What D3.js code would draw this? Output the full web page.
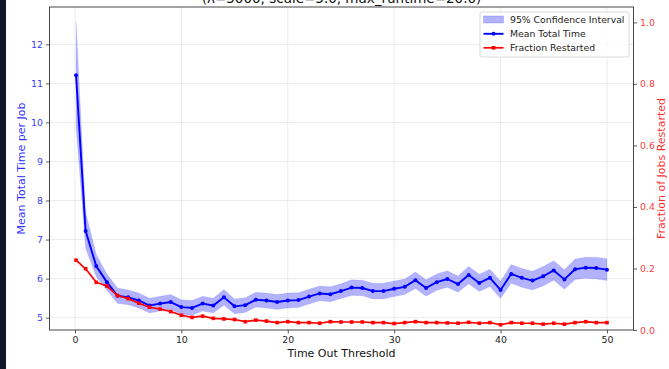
<!DOCTYPE html>
<html>
<head>
<meta charset="utf-8">
<script src="https://cdn.jsdelivr.net/npm/d3@7"></script>
<style>
  html, body { margin: 0; padding: 0; background: #fff; }
  svg { display: block; font-family: "DejaVu Sans", sans-serif; }
</style>
</head>
<body>
<script>
// thresholds (x)
var thresholds = [0.1, 1, 2, 3, 4, 5, 6, 7, 8, 9, 10, 11, 12, 13, 14, 15, 16, 17, 18, 19, 20,
  21, 22, 23, 24, 25, 26, 27, 28, 29, 30, 31, 32, 33, 34, 35, 36, 37, 38, 39, 40,
  41, 42, 43, 44, 45, 46, 47, 48, 49, 50];

var meanTime = [11.21, 7.22, 6.32, 5.91, 5.56, 5.52, 5.44, 5.31, 5.36, 5.40, 5.27,
  5.25, 5.36, 5.31, 5.52, 5.29, 5.32, 5.46, 5.44, 5.40, 5.44,
  5.45, 5.54, 5.62, 5.60, 5.68, 5.77, 5.76, 5.68, 5.68, 5.74,
  5.79, 5.96, 5.76, 5.91, 5.99, 5.86, 6.09, 5.89, 6.02, 5.71,
  6.12, 6.02, 5.95, 6.06, 6.21, 5.98, 6.24, 6.28, 6.27, 6.23];

var ciLow = [9.90, 6.78, 6.05, 5.70, 5.36, 5.33, 5.25, 5.12, 5.17, 5.21, 5.08,
  5.06, 5.17, 5.12, 5.32, 5.10, 5.13, 5.27, 5.25, 5.21, 5.25,
  5.26, 5.35, 5.43, 5.41, 5.49, 5.57, 5.56, 5.48, 5.48, 5.54,
  5.59, 5.75, 5.55, 5.70, 5.78, 5.65, 5.87, 5.67, 5.80, 5.49,
  5.88, 5.78, 5.71, 5.81, 5.96, 5.73, 5.98, 6.01, 5.99, 5.95];

var ciHigh = [12.58, 7.70, 6.62, 6.12, 5.76, 5.71, 5.63, 5.50, 5.55, 5.59, 5.46,
  5.44, 5.55, 5.50, 5.72, 5.48, 5.51, 5.65, 5.63, 5.59, 5.63,
  5.64, 5.73, 5.81, 5.79, 5.87, 5.97, 5.96, 5.88, 5.88, 5.94,
  5.99, 6.17, 5.97, 6.12, 6.20, 6.07, 6.31, 6.11, 6.24, 5.93,
  6.36, 6.26, 6.19, 6.31, 6.46, 6.23, 6.50, 6.55, 6.55, 6.51];

var fracRestarted = [0.227, 0.199, 0.155, 0.143, 0.112, 0.102, 0.087, 0.074, 0.068, 0.060, 0.048,
  0.041, 0.045, 0.038, 0.036, 0.034, 0.027, 0.032, 0.029, 0.024, 0.027,
  0.024, 0.024, 0.022, 0.027, 0.026, 0.026, 0.026, 0.024, 0.024, 0.021,
  0.024, 0.027, 0.024, 0.024, 0.023, 0.022, 0.025, 0.022, 0.024, 0.017,
  0.024, 0.022, 0.022, 0.019, 0.022, 0.019, 0.024, 0.027, 0.024, 0.024];

var xTicks = [0, 10, 20, 30, 40, 50];
var leftTicks = [5, 6, 7, 8, 9, 10, 11, 12];
var rightTicks = [0.0, 0.2, 0.4, 0.6, 0.8, 1.0];
var legendLabels = ["95% Confidence Interval", "Mean Total Time", "Fraction Restarted"];
var titleText = "(\u03bb=5000, scale=5.0, max_runtime=20.0)";

var W = 669, H = 369;
var pLeft = 49.5, pRight = 633.5, pTop = 7, pBottom = 330;
var tickFont = 9.4;

var svg = d3.select("body").append("svg")
  .attr("width", W)
  .attr("height", H);

svg.append("rect").attr("width", W).attr("height", H).attr("fill", "#fff");
// dark strip on the left edge
svg.append("rect").attr("x", 0).attr("y", 0).attr("width", 6).attr("height", H).attr("fill", "#0f172a");

var data = thresholds.map(function(t, i) {
  return {x: t, m: meanTime[i], lo: ciLow[i], hi: ciHigh[i], f: fracRestarted[i]};
});

// matplotlib-like 5% margins
var xExt = d3.extent(thresholds);
var xPad = (xExt[1] - xExt[0]) * 0.05;
var x = d3.scaleLinear().domain([xExt[0] - xPad, xExt[1] + xPad]).range([pLeft, pRight]);

var yMin = d3.min(ciLow), yMax = d3.max(ciHigh);
var yPad = (yMax - yMin) * 0.05;
var y = d3.scaleLinear().domain([yMin - yPad, yMax + yPad]).range([pBottom, pTop]);

var y2 = d3.scaleLinear().domain([0, 1.05]).range([pBottom, pTop]);

// grid
var grid = svg.append("g");
grid.selectAll("line.gx")
    .data(xTicks)
  .enter().append("line")
    .attr("x1", function(d) { return x(d); })
    .attr("x2", function(d) { return x(d); })
    .attr("y1", pTop).attr("y2", pBottom)
    .style("stroke", "#b0b0b0").style("stroke-opacity", 0.3).style("stroke-width", 0.8);
grid.selectAll("line.gy")
    .data(leftTicks)
  .enter().append("line")
    .attr("y1", function(d) { return y(d); })
    .attr("y2", function(d) { return y(d); })
    .attr("x1", pLeft).attr("x2", pRight)
    .style("stroke", "#b0b0b0").style("stroke-opacity", 0.3).style("stroke-width", 0.8);

var plot = svg.append("g");

// confidence band
var area = d3.area()
  .x(function(d) { return x(d.x); })
  .y0(function(d) { return y(d.lo); })
  .y1(function(d) { return y(d.hi); });
plot.append("path")
  .datum(data)
  .attr("d", area)
  .style("fill", "#0000ff")
  .style("fill-opacity", 0.3)
  .style("stroke", "#0000ff")
  .style("stroke-opacity", 0.15)
  .style("stroke-width", 0.5);

// mean line
var meanLine = d3.line()
  .x(function(d) { return x(d.x); })
  .y(function(d) { return y(d.m); });
plot.append("path")
  .datum(data)
  .attr("d", meanLine)
  .style("fill", "none")
  .style("stroke", "#0000ff")
  .style("stroke-width", 1.9)
  .style("stroke-linejoin", "round");
plot.selectAll("circle.mean")
    .data(data)
  .enter().append("circle")
    .attr("cx", function(d) { return x(d.x); })
    .attr("cy", function(d) { return y(d.m); })
    .attr("r", 2)
    .style("fill", "#0000ff");

// fraction restarted (twin axis)
var fracLine = d3.line()
  .x(function(d) { return x(d.x); })
  .y(function(d) { return y2(d.f); });
plot.append("path")
  .datum(data)
  .attr("d", fracLine)
  .style("fill", "none")
  .style("stroke", "#ff0000")
  .style("stroke-width", 1.7)
  .style("stroke-linejoin", "round");
plot.selectAll("rect.frac")
    .data(data)
  .enter().append("rect")
    .attr("x", function(d) { return x(d.x) - 1.8; })
    .attr("y", function(d) { return y2(d.f) - 1.8; })
    .attr("width", 3.6)
    .attr("height", 3.6)
    .style("fill", "#ff0000");

// axes
var xAxis = d3.axisBottom(x).tickValues(xTicks).tickFormat(d3.format("d")).tickSizeOuter(0).tickSize(3.5).tickPadding(3);
var yAxis = d3.axisLeft(y).tickValues(leftTicks).tickFormat(d3.format("d")).tickSizeOuter(0).tickSize(3.5).tickPadding(3);
var y2Axis = d3.axisRight(y2).tickValues(rightTicks).tickFormat(d3.format(".1f")).tickSizeOuter(0).tickSize(3.5).tickPadding(3);

var gx = svg.append("g").attr("transform", "translate(0," + pBottom + ")").call(xAxis);
var gy = svg.append("g").attr("transform", "translate(" + pLeft + ",0)").call(yAxis);
var gy2 = svg.append("g").attr("transform", "translate(" + pRight + ",0)").call(y2Axis);

[gx, gy, gy2].forEach(function(g) {
  g.select(".domain").remove();
  g.selectAll(".tick line").style("stroke", "#333").style("stroke-width", 0.8);
  g.selectAll(".tick text").style("font-family", "DejaVu Sans").style("font-size", tickFont + "px");
});
gx.selectAll(".tick text").style("fill", "#222");
gy.selectAll(".tick text").style("fill", "#0000ff").style("fill-opacity", 0.8);
gy2.selectAll(".tick text").style("fill", "#ff0000").style("fill-opacity", 0.8);

// spines
svg.append("rect")
  .attr("x", pLeft).attr("y", pTop)
  .attr("width", pRight - pLeft).attr("height", pBottom - pTop)
  .style("fill", "none")
  .style("stroke", "#333")
  .style("stroke-width", 0.9);

// axis labels
svg.append("text")
  .attr("x", (pLeft + pRight) / 2)
  .attr("y", 357)
  .attr("text-anchor", "middle")
  .style("font-size", "11px")
  .style("fill", "#111")
  .text("Time Out Threshold");

svg.append("text")
  .attr("transform", "translate(25," + ((pTop + pBottom) / 2) + ") rotate(-90)")
  .attr("text-anchor", "middle")
  .style("font-size", "11px")
  .style("fill", "#0000ff")
  .style("fill-opacity", 0.85)
  .text("Mean Total Time per Job");

svg.append("text")
  .attr("transform", "translate(665," + ((pTop + pBottom) / 2) + ") rotate(-90)")
  .attr("text-anchor", "middle")
  .style("font-size", "11px")
  .style("fill", "#ff0000")
  .style("fill-opacity", 0.85)
  .text("Fraction of Jobs Restarted");

// title (mostly cut off at the top)
svg.append("text")
  .attr("x", (pLeft + pRight) / 2)
  .attr("y", 2.5)
  .attr("text-anchor", "middle")
  .style("font-size", "13.5px")
  .style("fill", "#111")
  .text(titleText);

// legend
var lg = svg.append("g").attr("transform", "translate(480,12)");
lg.append("rect")
  .attr("width", 149).attr("height", 45)
  .attr("rx", 2)
  .style("fill", "#fff").style("fill-opacity", 0.8)
  .style("stroke", "#d0d0d0").style("stroke-width", 0.8);

var rowY = [7.5, 21.8, 35.8];
lg.append("rect")
  .attr("x", 3.5).attr("y", rowY[0] - 3.5)
  .attr("width", 20).attr("height", 7)
  .style("fill", "#0000ff").style("fill-opacity", 0.3)
  .style("stroke", "#0000ff").style("stroke-opacity", 0.15);
lg.append("line")
  .attr("x1", 3.5).attr("x2", 23.5).attr("y1", rowY[1]).attr("y2", rowY[1])
  .style("stroke", "#0000ff").style("stroke-width", 1.9);
lg.append("circle")
  .attr("cx", 13.5).attr("cy", rowY[1]).attr("r", 2)
  .style("fill", "#0000ff");
lg.append("line")
  .attr("x1", 3.5).attr("x2", 23.5).attr("y1", rowY[2]).attr("y2", rowY[2])
  .style("stroke", "#ff0000").style("stroke-width", 1.7);
lg.append("rect")
  .attr("x", 13.5 - 1.8).attr("y", rowY[2] - 1.8).attr("width", 3.6).attr("height", 3.6)
  .style("fill", "#ff0000");

lg.selectAll("text.lab")
    .data(legendLabels)
  .enter().append("text")
    .attr("x", 30)
    .attr("y", function(d, i) { return rowY[i]; })
    .attr("dy", "0.35em")
    .style("font-size", "9.3px")
    .style("fill", "#222")
    .text(function(d) { return d; });
</script>
</body>
</html>
